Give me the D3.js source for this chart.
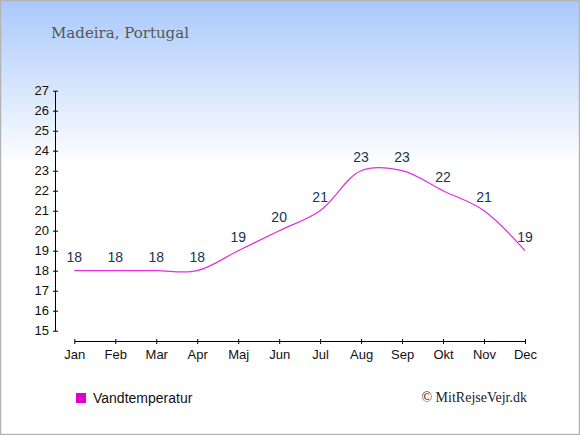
<!DOCTYPE html>
<html>
<head>
<meta charset="utf-8">
<script src="https://cdn.jsdelivr.net/npm/d3@7"></script>
<style>
  body { margin: 0; padding: 0; background: #fff; }
  svg { display: block; }
</style>
</head>
<body>
<svg width="580" height="435"></svg>
<script>
// Data
const months = ['Jan', 'Feb', 'Mar', 'Apr', 'Maj', 'Jun', 'Jul', 'Aug', 'Sep', 'Okt', 'Nov', 'Dec'];
const water_temp = [18, 18, 18, 18, 19, 20, 21, 23, 23, 22, 21, 19];
const y_ticks = [15, 16, 17, 18, 19, 20, 21, 22, 23, 24, 25, 26, 27];
const title = 'Madeira, Portugal';
const legend_label = 'Vandtemperatur';
const credit = '© MitRejseVejr.dk';

const svg = d3.select('svg');
const width = +svg.attr('width');
const height = +svg.attr('height');

// Background gradient
const defs = svg.append('defs');
const grad = defs.append('linearGradient')
    .attr('id', 'bg')
    .attr('x1', 0).attr('y1', 0).attr('x2', 0).attr('y2', 1);
grad.append('stop').attr('offset', '0%').attr('stop-color', '#a9c9fc');
grad.append('stop').attr('offset', '38%').attr('stop-color', '#ffffff');
grad.append('stop').attr('offset', '100%').attr('stop-color', '#ffffff');

svg.append('rect')
    .attr('x', 0.5).attr('y', 0.5)
    .attr('width', width - 1).attr('height', height - 1)
    .attr('fill', 'url(#bg)')
    .attr('stroke', '#b4b4b4')
    .attr('stroke-width', 1.5);

// Title
svg.append('text')
    .attr('x', 51)
    .attr('y', 38)
    .attr('fill', '#555')
    .attr('font-family', 'DejaVu Serif, Georgia, serif')
    .attr('font-size', '15px')
    .text(title);

// Scales
const x = d3.scalePoint()
    .domain(months)
    .range([74.3, 525]);
const y = d3.scaleLinear()
    .domain([15, 27])
    .range([330.7, 90.7]);

// Y axis
const y_axis = svg.append('g')
    .attr('transform', 'translate(55,0)')
    .call(d3.axisLeft(y).tickValues(y_ticks).tickSize(0).tickPadding(6));
y_axis.select('.domain').attr('stroke', '#000');
y_axis.selectAll('.tick line').remove();
y_axis.selectAll('.tick').append('line')
    .attr('x1', -2).attr('x2', 3)
    .attr('stroke', '#000');
y_axis.selectAll('text')
    .attr('font-family', 'Liberation Sans, Arial, sans-serif')
    .attr('font-size', '13px')
    .attr('fill', '#111');

// X axis
const x_axis = svg.append('g')
    .attr('transform', 'translate(0,341)')
    .call(d3.axisBottom(x).tickSize(0).tickPadding(9));
x_axis.select('.domain').attr('stroke', '#000');
x_axis.selectAll('.tick').append('line')
    .attr('y1', -2).attr('y2', 3)
    .attr('stroke', '#000');
x_axis.selectAll('text')
    .attr('font-family', 'Liberation Sans, Arial, sans-serif')
    .attr('font-size', '13px')
    .attr('fill', '#111');

// Line
const line = d3.line()
    .x((d, i) => x(months[i]))
    .y(d => y(d))
    .curve(d3.curveCatmullRom.alpha(0.5));

svg.append('path')
    .datum(water_temp)
    .attr('d', line)
    .attr('fill', 'none')
    .attr('stroke', '#e030dc')
    .attr('stroke-width', 1.2);

// Value labels
svg.selectAll('.val')
    .data(water_temp)
    .enter()
    .append('text')
    .attr('class', 'val')
    .attr('x', (d, i) => x(months[i]))
    .attr('y', d => y(d) - 9)
    .attr('text-anchor', 'middle')
    .attr('font-family', 'Liberation Sans, Arial, sans-serif')
    .attr('font-size', '14px')
    .attr('fill', '#223355')
    .text(d => d);

// Legend
svg.append('rect')
    .attr('x', 76).attr('y', 393)
    .attr('width', 10).attr('height', 10)
    .attr('fill', '#dd00cc');
svg.append('text')
    .attr('x', 93).attr('y', 403)
    .attr('font-family', 'Liberation Sans, Arial, sans-serif')
    .attr('font-size', '14px')
    .attr('fill', '#111')
    .text(legend_label);

// Credit
svg.append('text')
    .attr('x', 527).attr('y', 402)
    .attr('text-anchor', 'end')
    .attr('font-family', 'Liberation Serif, Times New Roman, serif')
    .attr('font-size', '14px')
    .attr('fill', '#222')
    .text(credit);
</script>
</body>
</html>
